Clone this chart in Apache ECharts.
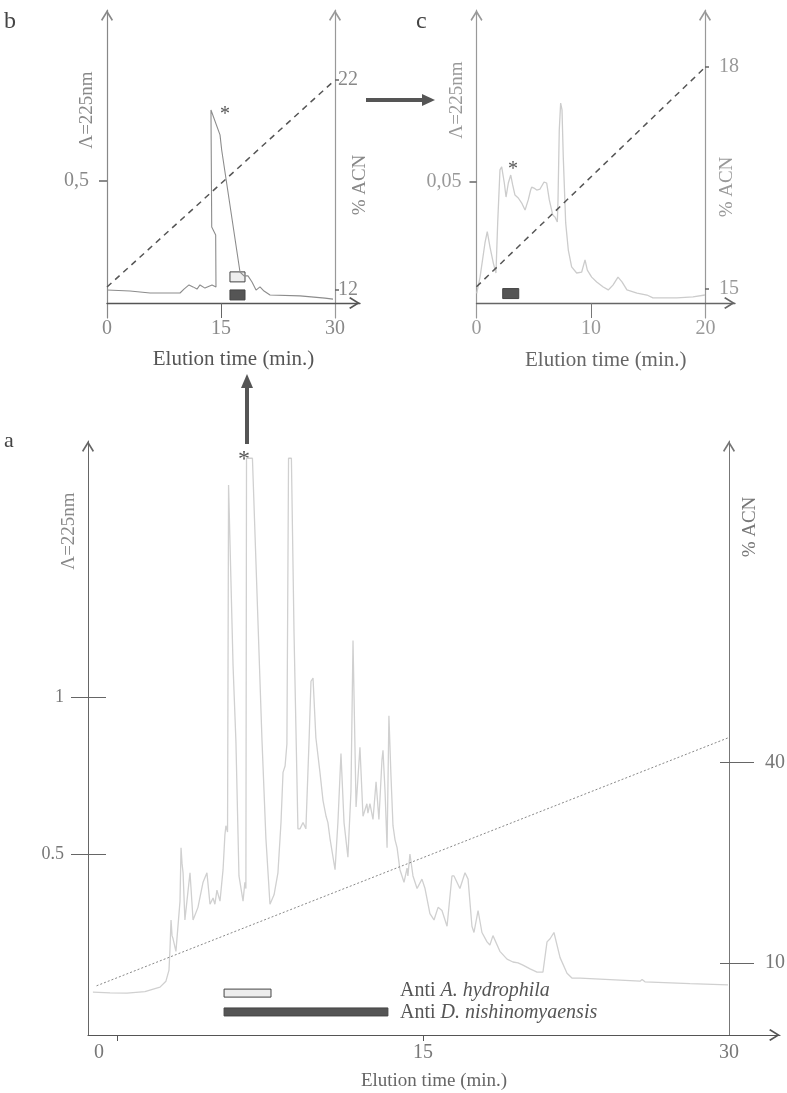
<!DOCTYPE html>
<html>
<head>
<meta charset="utf-8">
<script src="https://cdn.jsdelivr.net/npm/echarts@6/dist/echarts.min.js"></script>
<style>
  html, body { margin: 0; padding: 0; background: #fff; }
  #chart { width: 787px; height: 1093px; }
</style>
</head>
<body>
<div id="chart"></div>
<script>
// ---- panel a : full extract (time in min, absorbance at 225 nm)
const chromA_time = [-1.18, -0.34, 0.49, 1.37, 2.11, 2.40, 2.55, 2.60, 2.65, 2.70, 2.75, 2.89, 2.97, 3.09, 3.14, 3.19, 3.24, 3.33, 3.48, 3.58, 3.73, 3.97, 4.22, 4.41, 4.56, 4.71, 4.80, 4.90, 5.05, 5.20, 5.29, 5.34, 5.42, 5.47, 5.51, 5.69, 5.83, 5.98, 6.18, 6.27, 6.32, 6.35, 6.64, 7.11, 7.30, 7.50, 7.70, 7.89, 8.04, 8.14, 8.24, 8.33, 8.41, 8.55, 8.68, 8.87, 8.97, 9.12, 9.26, 9.41, 9.51, 9.61, 9.75, 9.95, 10.10, 10.25, 10.34, 10.44, 10.69, 10.83, 10.98, 11.13, 11.32, 11.47, 11.57, 11.72, 11.81, 11.91, 12.06, 12.25, 12.30, 12.40, 12.55, 12.70, 12.84, 12.99, 13.04, 13.14, 13.24, 13.33, 13.43, 13.53, 13.63, 13.73, 13.87, 14.07, 14.22, 14.26, 14.36, 14.51, 14.71, 14.95, 15.10, 15.34, 15.54, 15.74, 15.93, 16.18, 16.42, 16.52, 16.81, 17.06, 17.21, 17.40, 17.50, 17.70, 17.89, 18.14, 18.28, 18.43, 18.77, 19.12, 19.41, 19.66, 19.90, 20.25, 20.59, 20.88, 21.08, 21.23, 21.42, 21.72, 22.06, 22.30, 22.70, 24.17, 25.64, 25.74, 25.88, 28.09, 29.95];
const chromA_abs = [0.060, 0.058, 0.057, 0.062, 0.076, 0.095, 0.13, 0.20, 0.29, 0.24, 0.23, 0.19, 0.185, 0.35, 0.52, 0.47, 0.44, 0.29, 0.38, 0.44, 0.29, 0.33, 0.41, 0.44, 0.34, 0.36, 0.34, 0.385, 0.35, 0.45, 0.56, 0.59, 0.57, 1.675, 1.675, 1.10, 0.86, 0.43, 0.35, 0.41, 0.39, 1.76, 1.76, 0.86, 0.55, 0.34, 0.37, 0.44, 0.60, 0.76, 0.78, 0.85, 1.76, 1.76, 1.20, 0.58, 0.58, 0.60, 0.58, 0.85, 1.05, 1.06, 0.87, 0.76, 0.67, 0.62, 0.60, 0.55, 0.45, 0.60, 0.82, 0.60, 0.49, 0.70, 1.18, 0.65, 0.65, 0.84, 0.62, 0.66, 0.63, 0.66, 0.61, 0.73, 0.61, 0.80, 0.83, 0.70, 0.52, 0.94, 0.75, 0.59, 0.545, 0.52, 0.45, 0.41, 0.455, 0.43, 0.50, 0.43, 0.39, 0.42, 0.39, 0.31, 0.29, 0.33, 0.32, 0.27, 0.43, 0.43, 0.39, 0.44, 0.42, 0.27, 0.25, 0.32, 0.25, 0.22, 0.21, 0.24, 0.19, 0.165, 0.156, 0.153, 0.146, 0.134, 0.124, 0.124, 0.22, 0.23, 0.25, 0.17, 0.12, 0.105, 0.105, 0.10, 0.095, 0.10, 0.093, 0.087, 0.083];
const gradA_time = [-1.0, 30];
const gradA_acn = [6.6, 43.7];
// collected fractions [start, end, level]
const fracA_hydrophila = [[5.25, 7.55, 0.057]];
const fracA_nishino = [[5.25, 13.28, -0.003]];
const ticksA_time = [0, 15, 30];
const ticksA_abs = [0.5, 1];
const ticksA_acn = [10, 40];

// ---- panel b : first re-purification
const chromB_time = [0.00, 3.03, 5.66, 9.61, 10.13, 10.79, 11.32, 11.84, 12.24, 12.89, 13.82, 14.34, 14.30, 13.78, 13.68, 14.87, 15.09, 17.50, 18.03, 18.55, 19.08, 19.61, 20.13, 20.66, 21.45, 25.39, 28.68, 29.74];
const chromB_abs = [0.053, 0.049, 0.041, 0.041, 0.057, 0.074, 0.066, 0.057, 0.074, 0.061, 0.074, 0.066, 0.279, 0.311, 0.791, 0.689, 0.627, 0.127, 0.111, 0.111, 0.086, 0.053, 0.066, 0.049, 0.033, 0.029, 0.020, 0.016];
const gradB_time = [0, 30];
const gradB_acn = [12.14, 22];
const fracB_hydrophila = [[16.18, 18.16, 0.107]];
const fracB_nishino = [[16.18, 18.16, 0.033]];
const ticksB_time = [0, 15, 30];
const ticksB_abs = [0.5];
const ticksB_acn = [12, 22];

// ---- panel c : second re-purification
const chromC_time = [0.02, 0.31, 0.74, 0.94, 1.18, 1.47, 1.70, 1.85, 2.05, 2.20, 2.43, 2.58, 2.78, 2.99, 3.16, 3.36, 3.65, 3.95, 4.24, 4.52, 4.73, 4.82, 5.02, 5.26, 5.55, 5.90, 6.13, 6.36, 6.66, 6.86, 7.06, 7.12, 7.23, 7.35, 7.47, 7.58, 7.79, 8.02, 8.31, 8.75, 9.19, 9.48, 9.68, 10.06, 10.50, 11.07, 11.51, 11.92, 12.36, 12.71, 13.14, 14.02, 14.89, 15.41, 17.51, 18.91, 19.96];
const chromC_abs = [0.0040, 0.0107, 0.0248, 0.0295, 0.0231, 0.0165, 0.0124, 0.0331, 0.0550, 0.0563, 0.0496, 0.0438, 0.0496, 0.0529, 0.0488, 0.0446, 0.0434, 0.0413, 0.0384, 0.0426, 0.0467, 0.0479, 0.0475, 0.0467, 0.0471, 0.0500, 0.0496, 0.0426, 0.0364, 0.0355, 0.0335, 0.0426, 0.0715, 0.0826, 0.0798, 0.0603, 0.0331, 0.0219, 0.0149, 0.0124, 0.0128, 0.0178, 0.0136, 0.0107, 0.0087, 0.0066, 0.0054, 0.0074, 0.0107, 0.0087, 0.0054, 0.0041, 0.0033, 0.0021, 0.0021, 0.0025, 0.0033];
const gradC_time = [0, 20];
const gradC_acn = [15.03, 18];
const fracC_nishino = [[2.29, 3.69, 0.0039]];
const ticksC_time = [0, 10, 20];
const ticksC_abs = [0.05];
const ticksC_acn = [15, 18];

const FONT = 'Liberation Serif';
const chevron = 'path://M5,0 L10,8 L9,9 L5,2.6 L1,9 L0,8 Z';
const zip = (xs, ys) => xs.map((x, i) => [x, ys[i]]);
const comma = v => String(v).replace('.', ',');

const arrowLine = (color, width) => ({
  onZero: false,
  symbol: ['none', chevron],
  symbolSize: [12, 11],
  symbolOffset: [0, -5.5],
  lineStyle: { color: color, width: width || 1 }
});

const fractionSeries = (xi, yi, data, fill, h) => ({
  type: 'custom',
  xAxisIndex: xi,
  yAxisIndex: yi,
  data: data,
  silent: true,
  renderItem: (params, api) => {
    const p0 = api.coord([api.value(0), api.value(2)]);
    const p1 = api.coord([api.value(1), api.value(2)]);
    return {
      type: 'rect',
      shape: { x: p0[0], y: p0[1] - h / 2, width: p1[0] - p0[0], height: h },
      style: { fill: fill, stroke: '#444', lineWidth: 1 }
    };
  }
});

const yName = (name, color, gap, padding) => ({
  name: name, nameLocation: 'middle', nameRotate: 90, nameGap: gap, nameMoveOverlap: false,
  nameTextStyle: { color: color, fontSize: 19, fontFamily: FONT, padding: padding }
});

const chart = echarts.init(document.getElementById('chart'));

const option = {
  animation: false,
  backgroundColor: '#fff',
  textStyle: { fontFamily: FONT },
  grid: [
    { left: 88, top: 441, width: 692, height: 594, containLabel: false, outerBoundsMode: 'none' },
    { left: 107, top: 10, width: 253, height: 308, containLabel: false, outerBoundsMode: 'none' },
    { left: 476.5, top: 10, width: 258.5, height: 308, containLabel: false, outerBoundsMode: 'none' }
  ],
  xAxis: [
    {
      gridIndex: 0, type: 'value', min: -1.42, max: 32.5, position: 'bottom',
      axisLine: arrowLine('#555', 1.2),
      axisTick: { customValues: [0, 15], length: 6, lineStyle: { color: '#555' } },
      axisLabel: {
        customValues: ticksA_time, margin: 8, color: '#777', fontSize: 20, fontFamily: FONT,
        formatter: v => (v === 0 ? '{z|0}' : String(v)),
        rich: { z: { padding: [0, 36, 0, 0], color: '#777', fontSize: 20, fontFamily: FONT } }
      },
      splitLine: { show: false },
      name: 'Elution time (min.)', nameLocation: 'middle', nameGap: 37, nameMoveOverlap: false,
      nameTextStyle: { color: '#666', fontSize: 19, fontFamily: FONT }
    },
    {
      gridIndex: 1, type: 'value', min: 0, max: 33.29, position: 'bottom',
      axisLine: Object.assign(arrowLine('#555', 1.4), { onZero: true, onZeroAxisIndex: 4 }),
      axisTick: { customValues: [15], length: 15, lineStyle: { color: '#666' } },
      axisLabel: { customValues: ticksB_time, margin: 1, color: '#888', fontSize: 20, fontFamily: FONT },
      splitLine: { show: false },
      name: 'Elution time (min.)', nameLocation: 'middle', nameGap: 31, nameMoveOverlap: false,
      nameTextStyle: { color: '#555', fontSize: 21, fontFamily: FONT }
    },
    {
      gridIndex: 2, type: 'value', min: 0, max: 22.58, position: 'bottom',
      axisLine: Object.assign(arrowLine('#666', 1.4), { onZero: true, onZeroAxisIndex: 6 }),
      axisTick: { customValues: [10], length: 15, lineStyle: { color: '#777' } },
      axisLabel: { customValues: ticksC_time, margin: 1, color: '#999', fontSize: 20, fontFamily: FONT },
      splitLine: { show: false },
      name: 'Elution time (min.)', nameLocation: 'middle', nameGap: 32, nameMoveOverlap: false,
      nameTextStyle: { color: '#666', fontSize: 21, fontFamily: FONT }
    }
  ],
  yAxis: [
    // 0: a, absorbance (outer ticks, labels, name)
    Object.assign({
      gridIndex: 0, type: 'value', position: 'left', min: -0.0764, max: 1.815,
      axisLine: arrowLine('#666', 1),
      axisTick: { customValues: ticksA_abs, length: 17, lineStyle: { color: '#666' } },
      axisLabel: { customValues: ticksA_abs, margin: 24, color: '#777', fontSize: 18, fontFamily: FONT },
      splitLine: { show: false }
    }, yName('Λ=225nm', '#888', 9, [0, 0, 0, 414])),
    // 1: a, absorbance inner ticks
    {
      gridIndex: 0, type: 'value', position: 'left', min: -0.0764, max: 1.815,
      axisLine: { show: false, onZero: false },
      axisTick: { customValues: ticksA_abs, inside: true, length: 18, lineStyle: { color: '#666' } },
      axisLabel: { show: false },
      splitLine: { show: false }
    },
    // 2: a, %ACN
    Object.assign({
      gridIndex: 0, type: 'value', position: 'right', offset: -51, min: -0.75, max: 88,
      axisLine: arrowLine('#777', 1),
      axisTick: { customValues: ticksA_acn, length: 25, lineStyle: { color: '#666' } },
      axisLabel: { customValues: ticksA_acn, margin: 36, color: '#777', fontSize: 20, fontFamily: FONT },
      splitLine: { show: false }
    }, yName('% ACN', '#777', 12, [0, 0, 0, 422])),
    // 3: a, %ACN inner ticks
    {
      gridIndex: 0, type: 'value', position: 'right', offset: -51, min: -0.75, max: 88,
      axisLine: { show: false, onZero: false },
      axisTick: { customValues: ticksA_acn, inside: true, length: 9, lineStyle: { color: '#666' } },
      axisLabel: { show: false },
      splitLine: { show: false }
    },
    // 4: b, absorbance
    Object.assign({
      gridIndex: 1, type: 'value', position: 'left', min: -0.0615, max: 1.2008,
      axisLine: arrowLine('#888', 1.2),
      axisTick: { customValues: ticksB_abs, length: 8, lineStyle: { color: '#666', width: 1.5 } },
      axisLabel: { customValues: ticksB_abs, margin: 18, color: '#888', fontSize: 20, fontFamily: FONT, formatter: comma },
      splitLine: { show: false }
    }, yName('Λ=225nm', '#888', 10, [0, 0, 0, 108])),
    // 5: b, %ACN
    Object.assign({
      gridIndex: 1, type: 'value', position: 'right', offset: -25, min: 10.667, max: 25.333,
      axisLine: arrowLine('#999', 1.2),
      axisTick: { customValues: ticksB_acn, length: 4, lineStyle: { color: '#666', width: 1.5 } },
      axisLabel: { customValues: ticksB_acn, margin: 3, color: '#888', fontSize: 20, fontFamily: FONT },
      splitLine: { show: false }
    }, yName('% ACN', '#888', 16, [0, 42, 0, 0])),
    // 6: c, absorbance
    Object.assign({
      gridIndex: 2, type: 'value', position: 'left', min: -0.0062, max: 0.1211,
      axisLine: arrowLine('#999', 1.2),
      axisTick: { customValues: ticksC_abs, length: 7, lineStyle: { color: '#666', width: 1.5 } },
      axisLabel: { customValues: ticksC_abs, margin: 15, color: '#999', fontSize: 20, fontFamily: FONT, formatter: comma },
      splitLine: { show: false }
    }, yName('Λ=225nm', '#999', 10, [0, 0, 0, 128])),
    // 7: c, %ACN
    Object.assign({
      gridIndex: 2, type: 'value', position: 'right', offset: -30, min: 14.608, max: 18.77,
      axisLine: arrowLine('#999', 1.2),
      axisTick: { customValues: ticksC_acn, length: 4, lineStyle: { color: '#666', width: 1.5 } },
      axisLabel: { customValues: ticksC_acn, margin: 14, color: '#999', fontSize: 20, fontFamily: FONT },
      splitLine: { show: false }
    }, yName('% ACN', '#999', 13, [0, 46, 0, 0]))
  ],
  series: [
    {
      type: 'line', xAxisIndex: 0, yAxisIndex: 0, data: zip(chromA_time, chromA_abs),
      showSymbol: false, silent: true, lineStyle: { color: '#d0d0d0', width: 1.3 }
    },
    {
      type: 'line', xAxisIndex: 0, yAxisIndex: 2, data: zip(gradA_time, gradA_acn),
      showSymbol: false, silent: true, lineStyle: { color: '#888', width: 1, type: [2, 2] }
    },
    fractionSeries(0, 0, fracA_hydrophila, '#eeeeee', 8),
    fractionSeries(0, 0, fracA_nishino, '#555555', 8),

    {
      type: 'line', xAxisIndex: 1, yAxisIndex: 4, data: zip(chromB_time, chromB_abs),
      showSymbol: false, silent: true, lineStyle: { color: '#8c8c8c', width: 1.1 }
    },
    {
      type: 'line', xAxisIndex: 1, yAxisIndex: 5, data: zip(gradB_time, gradB_acn),
      showSymbol: false, silent: true, lineStyle: { color: '#555', width: 1.5, type: [6, 5] }
    },
    fractionSeries(1, 4, fracB_hydrophila, '#eeeeee', 10),
    fractionSeries(1, 4, fracB_nishino, '#555555', 10),

    {
      type: 'line', xAxisIndex: 2, yAxisIndex: 6, data: zip(chromC_time, chromC_abs),
      showSymbol: false, silent: true, lineStyle: { color: '#cccccc', width: 1.3 }
    },
    {
      type: 'line', xAxisIndex: 2, yAxisIndex: 7, data: zip(gradC_time, gradC_acn),
      showSymbol: false, silent: true, lineStyle: { color: '#555', width: 1.5, type: [6, 5] }
    },
    fractionSeries(2, 6, fracC_nishino, '#555555', 10)
  ],
  graphic: [
    // panel letters
    { type: 'text', left: 4, top: 430, style: { text: 'a', fontSize: 22, fontFamily: FONT, fill: '#444' } },
    { type: 'text', left: 4, top: 10, style: { text: 'b', fontSize: 24, fontFamily: FONT, fill: '#444' } },
    { type: 'text', left: 416, top: 10, style: { text: 'c', fontSize: 24, fontFamily: FONT, fill: '#444' } },
    // peak of interest
    { type: 'text', x: 244, y: 460, style: { text: '*', fontSize: 24, fontFamily: FONT, fill: '#555', align: 'center', verticalAlign: 'middle' } },
    { type: 'text', x: 225, y: 115, style: { text: '*', fontSize: 20, fontFamily: FONT, fill: '#555', align: 'center', verticalAlign: 'middle' } },
    { type: 'text', x: 513, y: 170, style: { text: '*', fontSize: 20, fontFamily: FONT, fill: '#555', align: 'center', verticalAlign: 'middle' } },
    // arrows between panels
    { type: 'line', shape: { x1: 247, y1: 444, x2: 247, y2: 386 }, style: { stroke: '#555', lineWidth: 4 } },
    { type: 'polygon', shape: { points: [[241, 388], [253, 388], [247, 374]] }, style: { fill: '#555' } },
    { type: 'line', shape: { x1: 366, y1: 100, x2: 424, y2: 100 }, style: { stroke: '#555', lineWidth: 4 } },
    { type: 'polygon', shape: { points: [[422, 94], [422, 106], [435, 100]] }, style: { fill: '#555' } },
    // fraction legend
    {
      type: 'text', x: 400, y: 991,
      style: {
        text: 'Anti {i|A. hydrophila}', fontSize: 20, fontFamily: FONT, fill: '#555', verticalAlign: 'middle',
        rich: { i: { fontStyle: 'italic', fontSize: 20, fontFamily: FONT, fill: '#555' } }
      }
    },
    {
      type: 'text', x: 400, y: 1013,
      style: {
        text: 'Anti {i|D. nishinomyaensis}', fontSize: 20, fontFamily: FONT, fill: '#555', verticalAlign: 'middle',
        rich: { i: { fontStyle: 'italic', fontSize: 20, fontFamily: FONT, fill: '#555' } }
      }
    }
  ]
};

chart.setOption(option);
</script>
</body>
</html>
